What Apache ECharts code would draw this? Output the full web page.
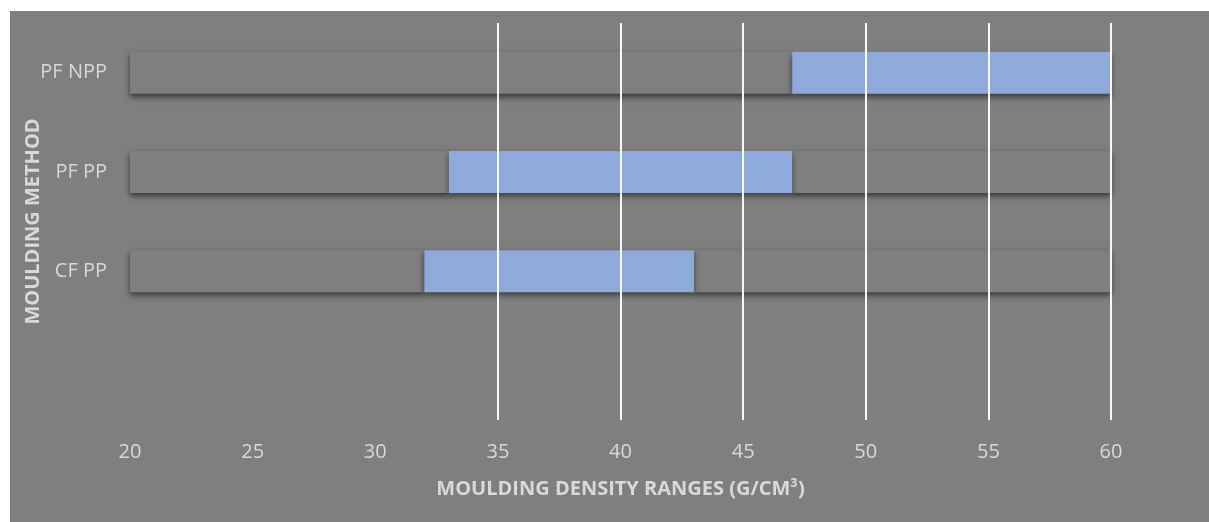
<!DOCTYPE html>
<html>
<head>
<meta charset="utf-8">
<script src="https://cdn.jsdelivr.net/npm/echarts@6/dist/echarts.min.js"></script>
<style>
html,body{margin:0;padding:0;background:#ffffff;width:1209px;height:522px;overflow:hidden;}
#c{position:absolute;left:10px;top:11px;width:1199px;height:511px;background:#7f7f7f;}
</style>
</head>
<body>
<div id="c"></div>
<script>
const categories = ['', 'CF PP', 'PF PP', 'PF NPP'];
const rangeStart = [20, 32, 33, 47];
const rangeEnd = [20, 43, 47, 60];
const rowEnd = [20, 60, 60, 60];
const gridValues = [35, 40, 45, 50, 55, 60];
const xTicks = [20, 25, 30, 35, 40, 45, 50, 55, 60];

const base = rangeStart.slice();
const span = rangeEnd.map((e, i) => e - rangeStart[i]);
const rest = rowEnd.map((e, i) => e - rangeEnd[i]);

const chart = echarts.init(document.getElementById('c'));
const txt = '#d9d9d9';
const font = '"Open Sans", "Noto Sans", sans-serif';
const ghost = {color: '#7f7f7f', shadowColor: 'rgba(0,0,0,0.6)', shadowBlur: 6, shadowOffsetY: 3};
chart.setOption({
  backgroundColor: '#7f7f7f',
  animation: false,
  grid: {left: 120, right: 98, top: 12, bottom: 102, containLabel: false, outerBoundsMode: 'none'},
  xAxis: {
    type: 'value', min: xTicks[0], max: xTicks[xTicks.length - 1], interval: 5,
    name: 'MOULDING DENSITY RANGES (G/CM³)', nameLocation: 'middle', nameGap: 59, nameMoveOverlap: false,
    nameTextStyle: {color: txt, fontSize: 20, fontWeight: 'bold', fontFamily: font},
    axisLine: {show: false}, axisTick: {show: false}, splitLine: {show: false},
    axisLabel: {color: txt, fontSize: 20, margin: 22, fontFamily: font}
  },
  yAxis: {
    type: 'category', data: categories,
    name: 'MOULDING METHOD', nameLocation: 'middle', nameGap: 87, nameRotate: 90, nameMoveOverlap: false,
    nameTextStyle: {color: txt, fontSize: 20, fontWeight: 'bold', fontFamily: font},
    axisLine: {show: false}, axisTick: {show: false}, splitLine: {show: false},
    axisLabel: {color: txt, fontSize: 20, margin: 23, fontFamily: font}
  },
  series: [
    {
      type: 'bar', stack: 's', data: base, barWidth: 42, z: 2,
      itemStyle: ghost
    },
    {
      type: 'bar', stack: 's', data: span, barWidth: 42, z: 3,
      itemStyle: {color: '#8eaadb', shadowColor: 'rgba(0,0,0,0.55)', shadowBlur: 6, shadowOffsetY: 3}
    },
    {
      type: 'bar', stack: 's', data: rest, barWidth: 42, z: 2,
      itemStyle: ghost,
      markLine: {
        silent: true, symbol: 'none', label: {show: false},
        lineStyle: {color: '#ffffff', width: 2, type: 'solid', opacity: 0.95},
        data: gridValues.map(v => ({xAxis: v}))
      }
    }
  ]
});
</script>
</body>
</html>
